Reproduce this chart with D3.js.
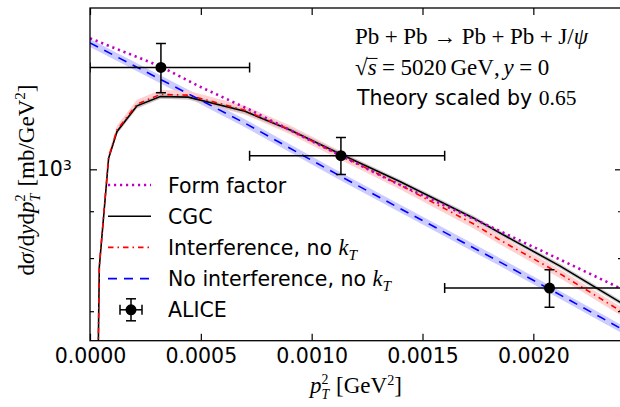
<!DOCTYPE html>
<html>
<head>
<meta charset="utf-8">
<script src="https://cdn.jsdelivr.net/npm/d3@7"></script>
<style>
  body { margin: 0; background: #fff; }
  svg { display: block; }
</style>
</head>
<body>
<svg id="chart" width="620" height="407"></svg>
<script>
// Data (theory curves already scaled by 0.65)
// x values are pT^2 in GeV^2, y values in mb/GeV^2
const ffX = [0, 0.000316, 0.000496, 0.000722, 0.000992, 0.001128, 0.001353, 0.00185, 0.002116, 0.0024];
const ffY = [1390, 1296, 1231, 1161, 1076, 1036, 973, 856, 798, 740];

const cgcX = [0.00002, 0.000042, 0.0000839, 0.000122, 0.000212, 0.000317, 0.000443, 0.000699, 0.000903, 0.001129, 0.0014, 0.001729, 0.00185, 0.002121, 0.0024];
const cgcY = [300, 782, 1028, 1100, 1173, 1201, 1199, 1157, 1104, 1039, 969, 885, 852, 784, 714];

const intX = [0.000019, 0.000042, 0.0000839, 0.000122, 0.000212, 0.000317, 0.000443, 0.000699, 0.000903, 0.001129, 0.0014, 0.001729, 0.00185, 0.002121, 0.0024];
const intY = [300, 784, 1031, 1104, 1178, 1207, 1205, 1160, 1104, 1036, 961, 872, 837, 769, 699];

const noIntX = [0, 0.000317, 0.000699, 0.001129, 0.0014, 0.00185, 0.002073, 0.002315, 0.0024];
const noIntY = [1374, 1254, 1123, 983, 906, 792, 740, 687, 669];

// relative half-widths of the shaded uncertainty bands
const cgcBand = 0.006;
const intBand = 0.011;
const noIntBand = 0.01;

const aliceX = [0.00032, 0.001132, 0.002073];
const aliceXLo = [0, 0.00072, 0.0016];
const aliceXHi = [0.00072, 0.0016, 0.0026];
const aliceY = [1292, 1035, 742];
const aliceErr = [80, 48, 35];

const xTicks = [0, 0.0005, 0.001, 0.0015, 0.002];
const yMajor = [1000];
const yMinor = [700, 800, 900];

const legendLabels = ['Form factor', 'CGC', 'Interference, no ', 'No interference, no ', 'ALICE'];

// Layout
const SANS = "'DejaVu Sans', sans-serif";
const SERIF = "'Liberation Serif', serif";
const plotL = 90, plotR = 622, plotT = 8, plotB = 340.7;
const fs = 20.5;     // sans font size
const ms = 23;       // math font size

const svg = d3.select('#chart');

const x = d3.scaleLinear().domain([0, 0.0024]).range([plotL, plotR]);
const y = d3.scaleLog().domain([650, 1500]).range([plotB, plotT]);

svg.append('defs').append('clipPath').attr('id', 'plot')
  .append('rect').attr('x', plotL).attr('y', plotT)
  .attr('width', plotR - plotL).attr('height', plotB - plotT);

const plot = svg.append('g').attr('clip-path', 'url(#plot)');

function pts(xs, ys) { return xs.map((d, i) => [d, ys[i]]); }

const line = d3.line().x(d => x(d[0])).y(d => y(d[1]));
const band = b => d3.area().x(d => x(d[0])).y0(d => y(d[1] * (1 - b))).y1(d => y(d[1] * (1 + b)));

// bands
plot.append('path').datum(pts(noIntX, noIntY)).attr('d', band(noIntBand)).attr('fill', '#ccccff');
plot.append('path').datum(pts(intX, intY)).attr('d', band(intBand)).attr('fill', '#ffcccc').attr('opacity', 0.9);
plot.append('path').datum(pts(cgcX, cgcY)).attr('d', band(cgcBand)).attr('fill', '#bbbbbb').attr('opacity', 0.7);

// curve styles
const styles = [
  { color: '#bf00bf', w: 2.6, dash: '2.2,3.8' },
  { color: '#000000', w: 1.6, dash: null },
  { color: '#ff0000', w: 1.6, dash: '5.5,4,1.5,4' },
  { color: '#0000ff', w: 1.6, dash: '9,7' }
];

function drawLine(g, data, st) {
  g.append('path').datum(data).attr('d', line)
    .attr('fill', 'none').attr('stroke', st.color).attr('stroke-width', st.w)
    .attr('stroke-dasharray', st.dash);
}

drawLine(plot, pts(cgcX, cgcY), styles[1]);
drawLine(plot, pts(intX, intY), styles[2]);
drawLine(plot, pts(noIntX, noIntY), styles[3]);
drawLine(plot, pts(ffX, ffY), styles[0]);

// ALICE points
const capH = 5;
aliceX.forEach((d, i) => {
  const g = plot.append('g').attr('stroke', '#000').attr('stroke-width', 1.5);
  const cx = x(d), cy = y(aliceY[i]);
  const x0 = x(aliceXLo[i]), x1 = x(aliceXHi[i]);
  const y0 = y(aliceY[i] - aliceErr[i]), y1 = y(aliceY[i] + aliceErr[i]);
  g.append('line').attr('x1', x0).attr('x2', x1).attr('y1', cy).attr('y2', cy);
  g.append('line').attr('x1', x0).attr('x2', x0).attr('y1', cy - capH).attr('y2', cy + capH);
  g.append('line').attr('x1', x1).attr('x2', x1).attr('y1', cy - capH).attr('y2', cy + capH);
  g.append('line').attr('x1', cx).attr('x2', cx).attr('y1', y0).attr('y2', y1);
  g.append('line').attr('x1', cx - capH).attr('x2', cx + capH).attr('y1', y0).attr('y2', y0);
  g.append('line').attr('x1', cx - capH).attr('x2', cx + capH).attr('y1', y1).attr('y2', y1);
  g.append('circle').attr('cx', cx).attr('cy', cy).attr('r', 5.5).attr('fill', '#000').attr('stroke', 'none');
});

// Axes: ticks point inward on all four sides
function styleAxis(g) {
  g.select('.domain').remove();
  g.selectAll('line').attr('stroke', '#000').attr('stroke-width', 1.2);
  g.selectAll('text').attr('font-family', SANS).attr('font-size', fs).attr('fill', '#000');
}

svg.append('g').attr('transform', `translate(0,${plotB})`)
  .call(d3.axisBottom(x).tickValues(xTicks).tickSize(-7).tickPadding(8).tickFormat(d3.format('.4f')))
  .call(styleAxis);
svg.append('g').attr('transform', `translate(0,${plotT})`)
  .call(d3.axisTop(x).tickValues(xTicks).tickSize(-7).tickFormat(''))
  .call(styleAxis);

const yl = svg.append('g').attr('transform', `translate(${plotL},0)`)
  .call(d3.axisLeft(y).tickValues(yMajor).tickSize(-7).tickPadding(18).tickFormat(() => '10'))
  .call(styleAxis);
yl.selectAll('.tick text').append('tspan').attr('dy', '-0.45em').attr('font-size', fs * 0.7).text('3');
svg.append('g').attr('transform', `translate(${plotL},0)`)
  .call(d3.axisLeft(y).tickValues(yMinor).tickSize(-4).tickFormat(''))
  .call(styleAxis);
svg.append('g').attr('transform', `translate(${plotR},0)`)
  .call(d3.axisRight(y).tickValues(yMajor).tickSize(-7).tickFormat(''))
  .call(styleAxis);
svg.append('g').attr('transform', `translate(${plotR},0)`)
  .call(d3.axisRight(y).tickValues(yMinor).tickSize(-4).tickFormat(''))
  .call(styleAxis);

svg.append('rect').attr('x', plotL).attr('y', plotT)
  .attr('width', plotR - plotL).attr('height', plotB - plotT)
  .attr('fill', 'none').attr('stroke', '#000').attr('stroke-width', 1.3);

// Rich text: one <text> with tspans placed one after another (sub/superscripts can stack)
function rich(parent, segs, size) {
  const g = parent.append('g');
  const text = g.append('text').attr('fill', '#000').style('white-space', 'pre');
  let xpos = 0, prevStart = 0, prevEnd = 0;
  segs.forEach(s => {
    const sz = size * (s.k || 1);
    const x0 = s.stack ? prevStart : xpos + (s.dx || 0) * size;
    const ts = text.append('tspan')
      .attr('x', x0).attr('y', (s.dy || 0) * size)
      .attr('font-family', s.sans ? SANS : SERIF)
      .attr('font-style', s.it ? 'italic' : 'normal')
      .attr('font-size', sz)
      .text(s.t);
    const w = ts.node().getComputedTextLength();
    if (s.bar) {
      g.append('line').attr('x1', x0 - 1).attr('x2', x0 + w + 1)
        .attr('y1', -0.72 * size).attr('y2', -0.72 * size)
        .attr('stroke', '#000').attr('stroke-width', 1);
    }
    const end = x0 + w;
    xpos = s.stack ? Math.max(prevEnd, end) : end;
    if (!s.stack) prevStart = x0;
    prevEnd = xpos;
  });
  return { g, width: xpos };
}

const sp = 0.24; // math spacing around operators (em)

// y label
const ylab = svg.append('g').attr('transform', 'translate(34,180) rotate(-90)');
const yr = rich(ylab, [
  { t: 'd' }, { t: 'σ', it: true }, { t: '/' }, { t: 'd' }, { t: 'y', it: true },
  { t: 'd' }, { t: 'p', it: true },
  { t: 'T', it: true, k: 0.62, dy: 0.28 }, { t: '2', k: 0.62, dy: -0.4, stack: true },
  { t: '[mb/GeV', dx: 0.3 }, { t: '2', k: 0.65, dy: -0.4 }, { t: ']' }
], ms);
yr.g.attr('transform', `translate(${-yr.width / 2},0)`);

// x label
const xlab = svg.append('g').attr('transform', 'translate(356,393)');
const xr = rich(xlab, [
  { t: 'p', it: true },
  { t: 'T', it: true, k: 0.6, dy: 0.28 }, { t: '2', k: 0.6, dy: -0.4, stack: true },
  { t: '[GeV', dx: 0.3 }, { t: '2', k: 0.62, dy: -0.36 }, { t: ']' }
], ms);
xr.g.attr('transform', `translate(${-xr.width / 2},0)`);

// annotations
const ann1 = svg.append('g').attr('transform', 'translate(355,44)');
rich(ann1, [
  { t: 'Pb' }, { t: '+', dx: sp }, { t: 'Pb', dx: sp }, { t: '→', dx: sp }, { t: 'Pb', dx: sp },
  { t: '+', dx: sp }, { t: 'Pb', dx: sp }, { t: '+', dx: sp }, { t: 'J', dx: sp }, { t: '/' }, { t: 'ψ', it: true }
], ms);

const ann2 = svg.append('g').attr('transform', 'translate(355,75)');
rich(ann2, [
  { t: '√' }, { t: 's', it: true, bar: true }, { t: '=', dx: sp }, { t: '5020', dx: sp },
  { t: 'GeV', dx: 0.17 }, { t: ',' }, { t: 'y', it: true, dx: 0.17 }, { t: '=', dx: sp }, { t: '0', dx: sp }
], ms);

const ann3 = svg.append('g').attr('transform', 'translate(357,105)');
rich(ann3, [{ t: 'Theory scaled by ', sans: true }, { t: '0.65', k: 1.05 }], fs);

// legend
const legX0 = 108, legX1 = 151, legText = 168, legY0 = 185, legDy = 31.2;
const legend = svg.append('g');
styles.forEach((st, i) => {
  const ly = legY0 + i * legDy;
  legend.append('line').attr('x1', legX0).attr('x2', legX1).attr('y1', ly).attr('y2', ly)
    .attr('stroke', st.color).attr('stroke-width', st.w).attr('stroke-dasharray', st.dash);
  const lg = legend.append('g').attr('transform', `translate(${legText},${ly + 7.5})`);
  const segs = [{ t: legendLabels[i], sans: true }];
  if (i >= 2) {
    segs.push({ t: 'k', it: true, k: 1.1 });
    segs.push({ t: 'T', it: true, k: 0.75, dy: 0.25 });
  }
  rich(lg, segs, fs);
});
{
  const ly = legY0 + 4 * legDy, cx = 131;
  const g = legend.append('g').attr('stroke', '#000').attr('stroke-width', 1.5);
  g.append('line').attr('x1', cx - 11).attr('x2', cx + 11).attr('y1', ly).attr('y2', ly);
  g.append('line').attr('x1', cx).attr('x2', cx).attr('y1', ly - 11).attr('y2', ly + 11);
  [-11, 11].forEach(o => {
    g.append('line').attr('x1', cx + o).attr('x2', cx + o).attr('y1', ly - capH).attr('y2', ly + capH);
    g.append('line').attr('x1', cx - capH).attr('x2', cx + capH).attr('y1', ly + o).attr('y2', ly + o);
  });
  g.append('circle').attr('cx', cx).attr('cy', ly).attr('r', 5.5).attr('fill', '#000').attr('stroke', 'none');
  const lg = legend.append('g').attr('transform', `translate(${legText},${ly + 7.5})`);
  rich(lg, [{ t: legendLabels[4], sans: true }], fs);
}
</script>
</body>
</html>
